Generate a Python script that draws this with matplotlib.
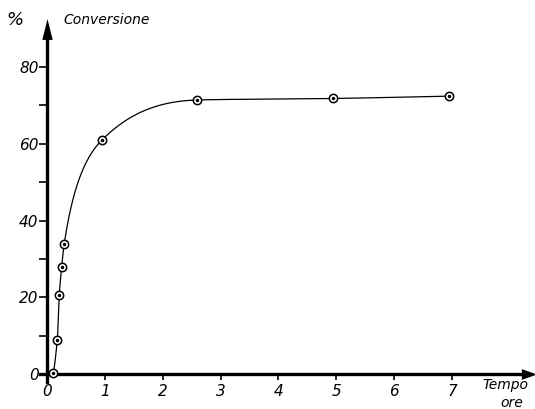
import numpy as np
import matplotlib
matplotlib.use("Agg")
import matplotlib.pyplot as plt

# Data
tempo = [0.10, 0.178, 0.213, 0.254, 0.299, 0.945, 2.59, 4.94, 6.94]
conversione = [0.3, 8.8, 20.6, 28.0, 34.0, 60.9, 71.4, 71.8, 72.4]
xticks = [0, 1, 2, 3, 4, 5, 6, 7]
yticks_major = [0, 20, 40, 60, 80]
yticks_minor = [10, 30, 50, 70]


def pchip(x, y, xs):
    """Shape-preserving piecewise cubic Hermite curve through (x, y)."""
    x = np.asarray(x, float); y = np.asarray(y, float)
    h = np.diff(x); d = np.diff(y) / h
    n = len(x); m = np.zeros(n)
    for k in range(1, n - 1):
        if d[k - 1] * d[k] <= 0:
            m[k] = 0
        else:
            w1 = 2 * h[k] + h[k - 1]; w2 = h[k] + 2 * h[k - 1]
            m[k] = (w1 + w2) / (w1 / d[k - 1] + w2 / d[k])
    m[0] = ((2 * h[0] + h[1]) * d[0] - h[0] * d[1]) / (h[0] + h[1])
    if np.sign(m[0]) != np.sign(d[0]): m[0] = 0
    m[-1] = ((2 * h[-1] + h[-2]) * d[-1] - h[-1] * d[-2]) / (h[-1] + h[-2])
    if np.sign(m[-1]) != np.sign(d[-1]): m[-1] = 0
    ys = np.empty_like(xs)
    idx = np.clip(np.searchsorted(x, xs) - 1, 0, n - 2)
    for i, xv in enumerate(xs):
        k = idx[i]; t = (xv - x[k]) / h[k]
        h00 = 2*t**3 - 3*t**2 + 1; h10 = t**3 - 2*t**2 + t
        h01 = -2*t**3 + 3*t**2; h11 = t**3 - t**2
        ys[i] = h00*y[k] + h10*h[k]*m[k] + h01*y[k+1] + h11*h[k]*m[k+1]
    return ys


fig = plt.figure(figsize=(5.35, 4.09), dpi=100)
ax = fig.add_axes([0, 0, 1, 1])
ax.set_xlim(-0.812, 8.434)
ax.set_ylim(-9.12, 97.46)
ax.patch.set_visible(False)

for s in ("top", "right"):
    ax.spines[s].set_visible(False)
ax.spines["left"].set_position(("data", 0))
ax.spines["bottom"].set_position(("data", 0))
ax.spines["left"].set_bounds(-2.2, 88)
ax.spines["bottom"].set_bounds(-0.12, 8.2)
ax.spines["left"].set_linewidth(2.4)
ax.spines["bottom"].set_linewidth(2.4)

# arrow heads
up_head = [(-0.5, -1), (0.5, -1), (0, 1), (-0.5, -1)]
right_head = [(-1, -0.7), (-1, 0.7), (1, 0), (-1, -0.7)]
ax.plot([0], [89.9], marker=up_head, ms=15, color="black", clip_on=False,
        markeredgewidth=0)
ax.plot([8.33], [0], marker=right_head, ms=11, color="black", clip_on=False,
        markeredgewidth=0)

ax.set_xticks(xticks)
ax.set_yticks(yticks_major)
ax.set_yticks(yticks_minor, minor=True)
ax.tick_params(axis="y", which="both", direction="out", length=6, width=1.2,
               pad=0, labelsize=11)
ax.tick_params(axis="x", which="both", direction="out", length=4, width=1.2,
               pad=3, labelsize=11)
for lab in ax.get_xticklabels() + ax.get_yticklabels():
    lab.set_fontstyle("italic")
    lab.set_fontfamily("DejaVu Sans")

# smooth curve through the measured points (interpolated in log-time)
xs = np.geomspace(tempo[0], tempo[-1], 1500)
ys = pchip(np.log(tempo), conversione, np.log(xs))
ax.plot(xs, ys, color="black", lw=0.9)
ax.plot(tempo, conversione, "o", ms=6, mfc="white", mec="black", mew=1.1,
        zorder=5)
ax.plot(tempo, conversione, "o", ms=1.5, color="black", zorder=6)

ax.text(-0.55, 92.3, "%", fontsize=13, fontstyle="italic", ha="center",
        va="center")
ax.text(0.28, 92.2, "Conversione", fontsize=10, fontstyle="italic",
        ha="left", va="center")
ax.text(7.93, -2.9, "Tempo", fontsize=10, fontstyle="italic", ha="center",
        va="center")
ax.text(8.03, -7.6, "ore", fontsize=10, fontstyle="italic", ha="center",
        va="center")

fig.savefig("out.png", dpi=100)
